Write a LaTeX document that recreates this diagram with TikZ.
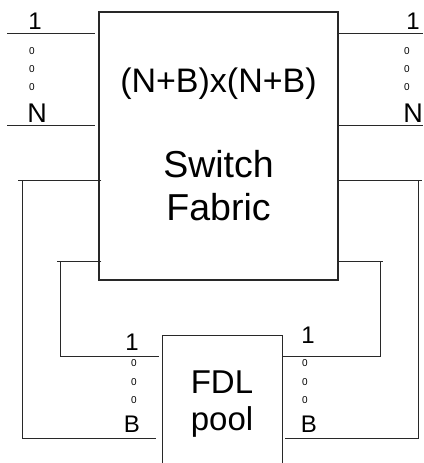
\documentclass[tikz,border=0pt]{standalone}
\usepackage{fontspec}
\setmainfont{Liberation Sans}
\usetikzlibrary{positioning,calc}
\definecolor{wiregray}{RGB}{40,40,40}

\begin{document}
\begin{tikzpicture}[x=1pt, y=-1pt,
    box/.style={draw=wiregray, line width=1.1pt, inner sep=0pt},
    wire/.style={draw=wiregray, line width=0.9pt},
    port/.style={font=\fontsize{24}{24}\selectfont, inner sep=0pt, anchor=base},
    dotmark/.style={font=\fontsize{10}{10}\selectfont, inner sep=0pt}]
    \useasboundingbox (0,0) rectangle (423,463);
    \clip (0,0) rectangle (423,463);

    % boxes
    \node[box, minimum width=239pt, minimum height=268pt] (fabric) at (218.5,146) {};
    \node[box, minimum width=120pt, minimum height=200pt, anchor=north west] (fdl) at (162,335) {};

    \node[font=\fontsize{34}{34}\selectfont, inner sep=0pt, anchor=base] (dim) at (218.5,92) {(N+B)x(N+B)};
    \node[font=\fontsize{37.5}{37.5}\selectfont, inner sep=0pt, anchor=base] (sw) at (218.5,177) {Switch};
    \node[font=\fontsize{37.5}{37.5}\selectfont, inner sep=0pt, anchor=base] (fab) at (218.5,220) {Fabric};
    \node[font=\fontsize{33}{33}\selectfont, inner sep=0pt, anchor=base] (fdlname) at (222,393) {FDL};
    \node[font=\fontsize{33}{33}\selectfont, inner sep=0pt, anchor=base] (pool) at (222,430) {pool};

    % input / output ports
    \coordinate (inOne) at (7,33);
    \coordinate (inN) at (7,125);
    \coordinate (outOne) at (423,33);
    \coordinate (outN) at (423,125);
    \draw[wire] (inOne) -- ([xshift=-3pt]fabric.west |- inOne);
    \draw[wire] (inN) -- ([xshift=-3pt]fabric.west |- inN);
    \draw[wire] (fabric.east |- outOne) -- (outOne);
    \draw[wire] (fabric.east |- outN) -- (outN);

    \node[port] (inOneLbl) at (35,29) {1};
    \node[port, font=\fontsize{27}{27}\selectfont] (inNLbl) at (37,122) {N};
    \node[port] (outOneLbl) at (413,29) {1};
    \node[port, font=\fontsize{27}{27}\selectfont] (outNLbl) at (413,122) {N};

    % recirculation loops
    \coordinate (outerL) at (22,180);
    \coordinate (outerR) at (418,180);
    \coordinate (innerL) at (60,261);
    \coordinate (innerR) at (380,261);
    \draw[wire] ([xshift=3pt]fabric.west |- outerL) -- ([xshift=-4pt]outerL)
        (outerL) |- ([xshift=-6pt]fdl.west |- 0,438);
    \draw[wire] (fabric.east |- outerR) -- ([xshift=4pt]outerR)
        (outerR) |- ([xshift=2pt]fdl.east |- 0,438);
    \draw[wire] ([xshift=3pt]fabric.west |- innerL) -- ([xshift=-3pt]innerL)
        (innerL) |- ([xshift=-3pt]fdl.west |- 0,356);
    \draw[wire] (fabric.east |- innerR) -- ([xshift=3pt]innerR)
        (innerR) |- (fdl.east |- 0,356);

    \node[port] (fdlInOne) at (132,350) {1};
    \node[port] (fdlInB) at (132,432) {B};
    \node[port] (fdlOutOne) at (308,343) {1};
    \node[port] (fdlOutB) at (309,432) {B};

    % dots between the ports
    \foreach \yy [count=\i] in {51,69,87} {
        \node[dotmark] (dotL\i) at (32,\yy) {0};
        \node[dotmark] (dotR\i) at (407,\yy) {0};
    }
    \foreach \yy [count=\i] in {363,382,400} {
        \node[dotmark] (dotFL\i) at (134,\yy) {0};
        \node[dotmark] (dotFR\i) at (305,\yy) {0};
    }
\end{tikzpicture}
\end{document}
